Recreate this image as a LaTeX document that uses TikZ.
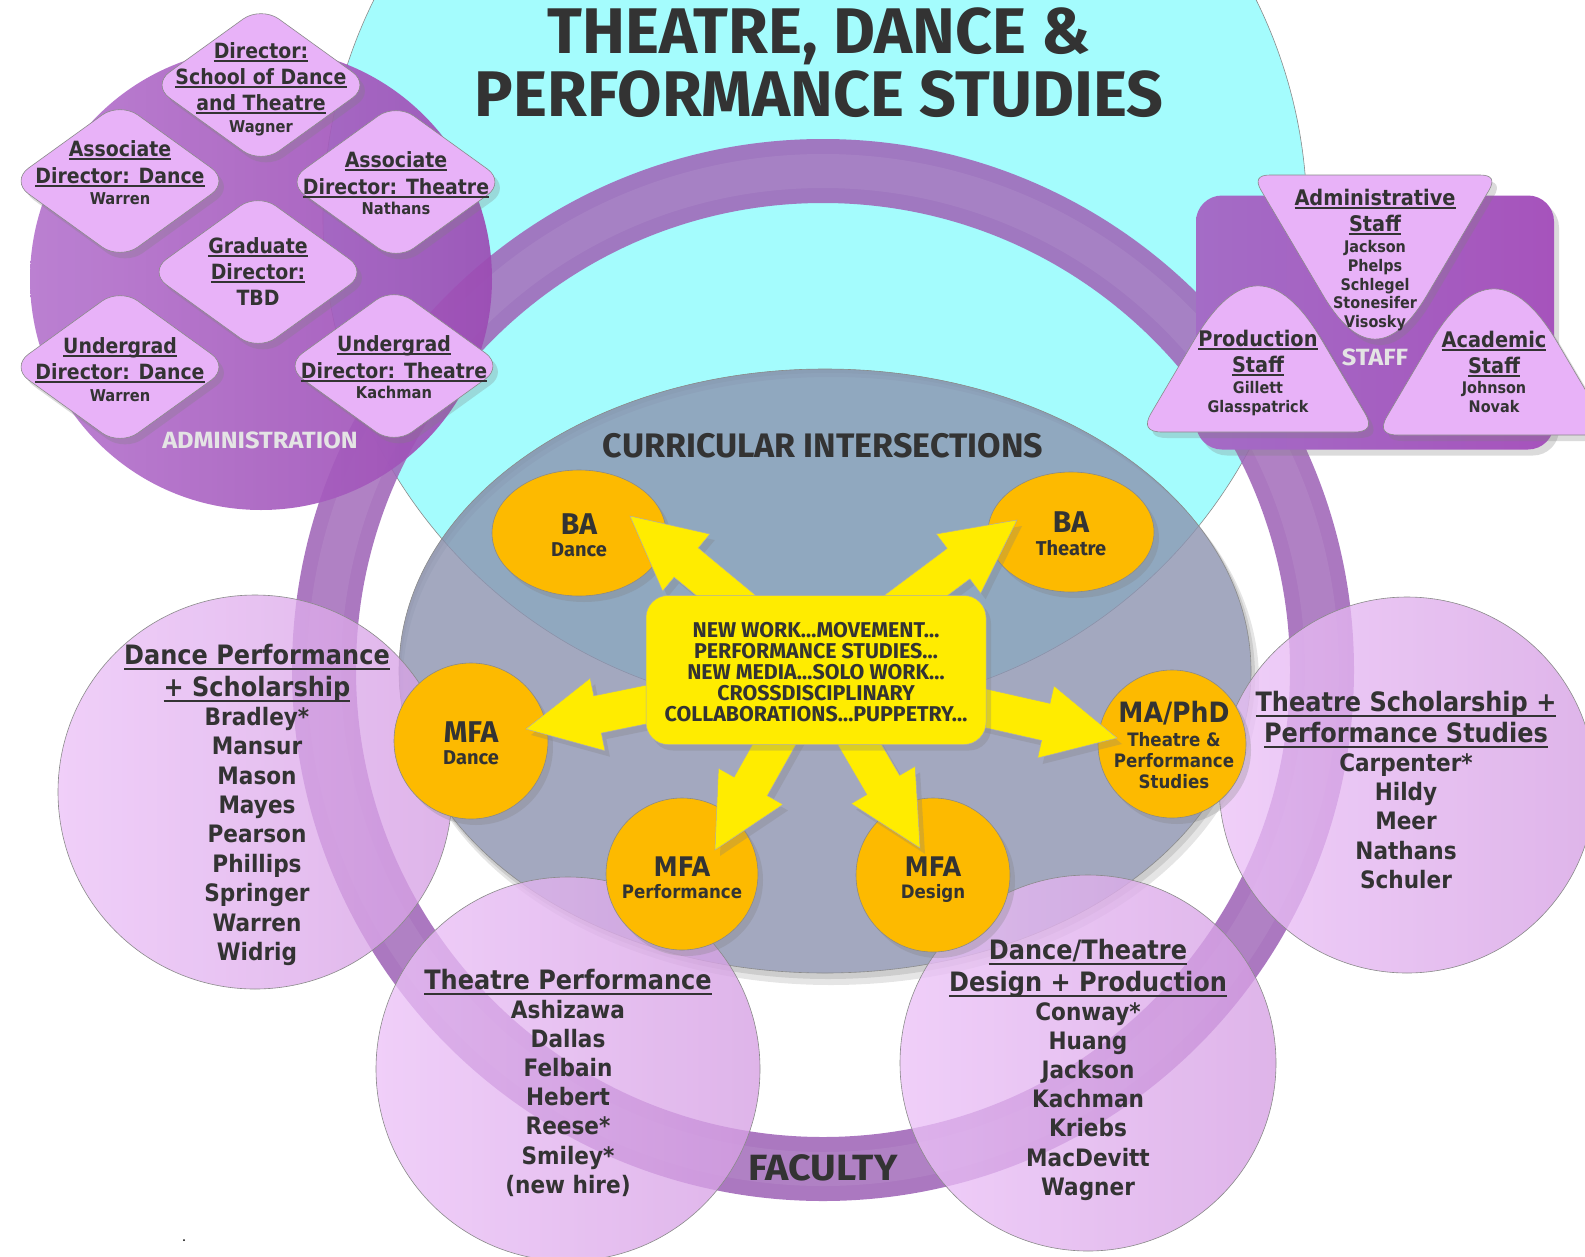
\documentclass[tikz,border=0pt]{standalone}
\usepackage{fontspec}
\setmainfont{DejaVu Sans}
\newfontfamily\lgf[FakeStretch=0.9]{DejaVu Sans}
\newfontfamily\myr{Fira Sans}
\newfontfamily\myrW[FakeStretch=1.08]{Fira Sans}
\usetikzlibrary{calc,shadows,shapes.geometric}

\definecolor{cyanC}{HTML}{A4FCFD}
\definecolor{ringC}{HTML}{A066B8}
\definecolor{greyC}{HTML}{8C93B0}
\definecolor{facC}{HTML}{D6A0E4}
\definecolor{facL}{HTML}{ECC2F8}
\definecolor{orangeC}{HTML}{FDBA00}
\definecolor{yellowC}{HTML}{FFEC00}
\definecolor{lavC}{HTML}{E8B2F8}
\definecolor{admL}{HTML}{B676CE}
\definecolor{admR}{HTML}{9C4CB4}
\definecolor{staffL}{HTML}{A46CC6}
\definecolor{staffR}{HTML}{A653BC}
\definecolor{textC}{HTML}{333333}
\definecolor{lineC}{HTML}{8A8A8A}
\definecolor{lblC}{HTML}{E4E4E4}

\newcommand\uln[1]{\setbox0=\hbox{#1}\leavevmode\rlap{\rule[-0.2em]{\wd0}{0.085em}}\box0}

\newcommand\fAH{\lgf\bfseries\fontsize{21}{24}\selectfont}
\newcommand\fAN{\lgf\bfseries\fontsize{16.3}{19}\selectfont}
\newcommand\fSH{\lgf\bfseries\fontsize{21.5}{26}\selectfont}
\newcommand\fSN{\lgf\bfseries\fontsize{16}{19}\selectfont}
\newcommand\fFH{\lgf\bfseries\fontsize{26.7}{32}\selectfont}
\newcommand\fFN{\lgf\bfseries\fontsize{24}{29}\selectfont}
\newcommand\fOB{\lgf\bfseries\fontsize{27}{30}\selectfont}
\newcommand\fOBB{\lgf\bfseries\fontsize{28}{30}\selectfont}
\newcommand\fOS{\lgf\bfseries\fontsize{18.5}{21}\selectfont}
\newcommand\fMB{\myr\bfseries\fontsize{30}{33}\selectfont}
\newcommand\fMS{\myr\bfseries\fontsize{20}{22}\selectfont}
\newcommand\fCore{\myr\bfseries\fontsize{21.4}{22}\selectfont}
\newcommand\fTitle{\myr\bfseries\fontsize{64.5}{66}\selectfont}
\newcommand\fCurr{\myr\bfseries\fontsize{34}{36}\selectfont}
\newcommand\fLbl{\myrW\bfseries\fontsize{23.5}{25}\selectfont}
\newcommand\fFac{\myrW\bfseries\fontsize{36.5}{38}\selectfont}

\tikzset{
  txt/.style={inner sep=0pt, text=textC, align=center},
  shad/.style={drop shadow={shadow xshift=5pt, shadow yshift=-6pt, opacity=0.28}},
  fac/.style={circle, inner sep=0pt, draw=lineC, line width=0.6pt, left color=facL, right color=facC, fill opacity=0.78},
  prog/.style={ellipse, inner sep=0pt, draw=lineC, line width=0.6pt, fill=orangeC, shad},
  dia/.style={diamond, inner sep=0pt, minimum width=219pt, minimum height=158pt,
    rounded corners=22pt, fill=lavC, draw=lineC, line width=0.6pt, shad},
  tri/.style={fill=lavC, draw=lineC, line width=0.6pt, shad},
}

\newcommand\stack[6]{\foreach \lineT [count=\i] in {#6}{%
  \node[txt,font=#5,anchor=base] (#1\i) at (#2,{#3+(\i-1)*(#4)}) {\lineT};}}

\newcommand\fatarrow[2]{%
  \coordinate (fah) at ($(#2)!73pt!(#1)$);
  \fill[yellowC, draw=lineC!70, line width=0.5pt, shad]
    ($(#1)!19pt!90:(#2)$) -- ($(fah)!19pt!90:(#2)$) -- ($(fah)!37pt!90:(#2)$) -- (#2)
    -- ($(fah)!37pt!-90:(#2)$) -- ($(fah)!19pt!-90:(#2)$) -- ($(#1)!19pt!-90:(#2)$) -- cycle;}

% rounded triangle: vertex, cut length, control distance (a third of it), for each of three vertices
\newcommand\rtri[9]{%
  \path[tri] ($(#1)!#2!(#4)$) -- ($(#4)!#5!(#1)$)
    .. controls ($(#4)!#6!(#1)$) and ($(#4)!#6!(#7)$) .. ($(#4)!#5!(#7)$)
    -- ($(#7)!#8!(#4)$)
    .. controls ($(#7)!#9!(#4)$) and ($(#7)!#9!(#1)$) .. ($(#7)!#8!(#1)$)
    -- ($(#1)!#2!(#7)$)
    .. controls ($(#1)!#3!(#7)$) and ($(#1)!#3!(#4)$) .. ($(#1)!#2!(#4)$) -- cycle;}

\begin{document}
\begin{tikzpicture}[x=1pt,y=-1pt]
\useasboundingbox (0,0) rectangle (1585,1256);
\fill[white] (0,0) rectangle (1585,1256);

% sky circle
\node[circle, inner sep=0pt, minimum size=984pt, fill=cyanC, draw=lineC, line width=0.6pt] (sky) at (815,218) {};

% faculty ring
\draw[ringC, line width=64pt, opacity=0.88] (823,670) circle [radius=499pt];
\draw[white, line width=34pt, opacity=0.07] (823,670) circle [radius=499pt];

% soft shadow of the curricular ellipse, outside it only
\fill[black, opacity=0.10, even odd rule] (831,681) ellipse [x radius=428pt, y radius=304pt] (825,671) ellipse [x radius=426pt, y radius=302pt];
\fill[black, opacity=0.10, even odd rule] (828,676) ellipse [x radius=427pt, y radius=303pt] (825,671) ellipse [x radius=426pt, y radius=302pt];

% curricular ellipse
\node[ellipse, inner sep=0pt, minimum width=852pt, minimum height=604pt, fill=greyC, fill opacity=0.8, draw=lineC, line width=0.6pt] (curr) at (825,671) {};

% faculty circles
\node[fac, minimum size=394pt] (fDP) at (255,792) {};
\node[fac, minimum size=384pt] (fTP) at (568,1069) {};
\node[fac, minimum size=376pt] (fDT) at (1088,1063) {};
\node[fac, minimum size=376pt] (fTS) at (1407,785) {};

% programme nodes
\node[prog, minimum width=174pt, minimum height=126pt] (baD) at (579,533) {};
\node[prog, minimum width=166pt, minimum height=120pt] (baT) at (1071,532) {};
\node[prog, minimum width=154pt, minimum height=156pt] (mfaD) at (471,741) {};
\node[prog, minimum width=152pt, minimum height=152pt] (mfaP) at (682,874) {};
\node[prog, minimum width=154pt, minimum height=154pt] (mfaG) at (933,875) {};
\node[prog, minimum width=148pt, minimum height=148pt] (phd) at (1172,744) {};

% arrows
\coordinate (hub) at (816,670);
\coordinate (tBD) at (630,516);
\coordinate (tBT) at (1017,520);
\coordinate (tMD) at (526,729);
\coordinate (tPH) at (1117,738);
\coordinate (tMP) at (715,850);
\coordinate (tMG) at (920,848);
\fatarrow{hub}{tBD}
\fatarrow{hub}{tBT}
\fatarrow{hub}{tMD}
\fatarrow{hub}{tPH}
\fatarrow{hub}{tMP}
\fatarrow{hub}{tMG}

% core box
\node[rectangle, rounded corners=22pt, inner sep=0pt, minimum width=340pt, minimum height=149pt, fill=yellowC, draw=lineC!70, line width=0.5pt, shad] (core) at (hub) {};

% administration
\node[circle, inner sep=0pt, minimum size=462pt, left color=admL, right color=admR, fill opacity=0.92] (adm) at (261,279) {};
\node[dia] (dDir) at (261,85) {};
\node[dia] (dAD) at (120,181) {};
\node[dia] (dAT) at (396,182) {};
\node[dia] (dGr) at (258,272) {};
\node[dia] (dUD) at (120,367) {};
\node[dia] (dUT) at (394,366) {};

% staff
\node[rectangle, rounded corners=26pt, inner sep=0pt, minimum width=358pt, minimum height=254pt, left color=staffL, right color=staffR, shad] (staff) at (1375,322.5) {};
\coordinate (aA) at (1375,383);
\coordinate (aB) at (1498,175);
\coordinate (aC) at (1252,175);
\rtri{aA}{102pt}{34pt}{aB}{18pt}{6pt}{aC}{18pt}{6pt}
\coordinate (pA) at (1258,232);
\coordinate (pB) at (1376,432);
\coordinate (pC) at (1140,432);
\rtri{pA}{125pt}{41.7pt}{pB}{22pt}{7.3pt}{pC}{22pt}{7.3pt}
\coordinate (cA) at (1494,235);
\coordinate (cB) at (1612,435);
\coordinate (cC) at (1376,435);
\rtri{cA}{125pt}{41.7pt}{cB}{22pt}{7.3pt}{cC}{22pt}{7.3pt}

% ---------- texts ----------
\node[txt, font=\fTitle, anchor=base] (title1) at (819,53) {THEATRE, DANCE \&};
\node[txt, font=\fTitle, anchor=base] (title2) at (819,116) {PERFORMANCE STUDIES};
\node[txt, font=\fCurr, anchor=base] (currL) at (823,457) {CURRICULAR INTERSECTIONS};
\node[txt, font=\fFac, anchor=base] (facL) at (823,1180) {FACULTY};
\node[txt, font=\fLbl, anchor=base, text=lblC] (admL) at (260,448) {ADMINISTRATION};
\node[txt, font=\fLbl, anchor=base, text=lblC] (staffL) at (1375,365) {STAFF};

% admin texts
\stack{dirH}{261}{58}{26}{\fAH}{\uln{Director:},\uln{School of Dance},\uln{and Theatre}}
\node[txt, font=\fAN, anchor=base] (dirN) at (261,132) {Wagner};
\stack{adH}{120}{156}{27}{\fAH}{\uln{Associate},\uln{Director: Dance}}
\node[txt, font=\fAN, anchor=base] (adN) at (120,204) {Warren};
\stack{atH}{396}{167}{27}{\fAH}{\uln{Associate},\uln{Director: Theatre}}
\node[txt, font=\fAN, anchor=base] (atN) at (396,214) {Nathans};
\stack{grH}{258}{253}{26}{\fAH}{\uln{Graduate},\uln{Director:},TBD}
\stack{udH}{120}{353}{26}{\fAH}{\uln{Undergrad},\uln{Director: Dance}}
\node[txt, font=\fAN, anchor=base] (udN) at (120,401) {Warren};
\stack{utH}{394}{351}{27}{\fAH}{\uln{Undergrad},\uln{Director: Theatre}}
\node[txt, font=\fAN, anchor=base] (utN) at (394,398) {Kachman};

% staff texts
\stack{asH}{1375}{205}{26}{\fSH}{\uln{Administrative},\uln{Staff}}
\stack{asN}{1375}{252.5}{18.75}{\fSN}{Jackson,Phelps,Schlegel,Stonesifer,Visosky}
\stack{psH}{1258}{346}{26}{\fSH}{\uln{Production},\uln{Staff}}
\stack{psN}{1258}{393.5}{19}{\fSN}{Gillett,Glasspatrick}
\stack{csH}{1494}{347}{26}{\fSH}{\uln{Academic},\uln{Staff}}
\stack{csN}{1494}{393.5}{19}{\fSN}{Johnson,Novak}

% faculty texts
\stack{dpH}{257}{664.5}{32}{\fFH}{\uln{Dance Performance},\uln{+ Scholarship}}
\stack{dpN}{257}{725.3}{29.4}{\fFN}{Bradley*,Mansur,Mason,Mayes,Pearson,Phillips,Springer,Warren,Widrig}
\stack{tpH}{568}{989.5}{32}{\fFH}{\uln{Theatre Performance}}
\stack{tpN}{568}{1018.3}{29.17}{\fFN}{Ashizawa,Dallas,Felbain,Hebert,Reese*,Smiley*,(new hire)}
\stack{dtH}{1088}{959.5}{32}{\fFH}{\uln{Dance/Theatre},\uln{Design + Production}}
\stack{dtN}{1088}{1020.3}{29.17}{\fFN}{Conway*,Huang,Jackson,Kachman,Kriebs,MacDevitt,Wagner}
\stack{tsH}{1406}{711.5}{31}{\fFH}{\uln{Theatre Scholarship +},\uln{Performance Studies}}
\stack{tsN}{1406}{771.3}{29.25}{\fFN}{Carpenter*,Hildy,Meer,Nathans,Schuler}

% programme texts
\node[txt, font=\fMB, anchor=base] (baDa) at (579,534) {BA};
\node[txt, font=\fMS, anchor=base] (baDb) at (579,556) {Dance};
\node[txt, font=\fMB, anchor=base] (baTa) at (1071,532) {BA};
\node[txt, font=\fMS, anchor=base] (baTb) at (1071,555) {Theatre};
\node[txt, font=\fMB, anchor=base] (mfaDa) at (471,742) {MFA};
\node[txt, font=\fMS, anchor=base] (mfaDb) at (471,764) {Dance};
\node[txt, font=\fOB, anchor=base] (mfaPa) at (682,876) {MFA};
\node[txt, font=\fOS, anchor=base] (mfaPb) at (682,898) {Performance};
\node[txt, font=\fOB, anchor=base] (mfaGa) at (933,876) {MFA};
\node[txt, font=\fOS, anchor=base] (mfaGb) at (933,898) {Design};
\node[txt, font=\fOBB, anchor=base] (phda) at (1174,722) {MA/PhD};
\stack{phdS}{1174}{746}{21}{\fOS}{Theatre \&,Performance,Studies}

% core text
\stack{coreT}{816}{637}{21.2}{\fCore}{NEW WORK…MOVEMENT…,PERFORMANCE STUDIES…,NEW MEDIA…SOLO WORK…,CROSSDISCIPLINARY,COLLABORATIONS…PUPPETRY…}

% stray dot
\fill[black] (184,1240) circle [radius=1pt];
\end{tikzpicture}
\end{document}
